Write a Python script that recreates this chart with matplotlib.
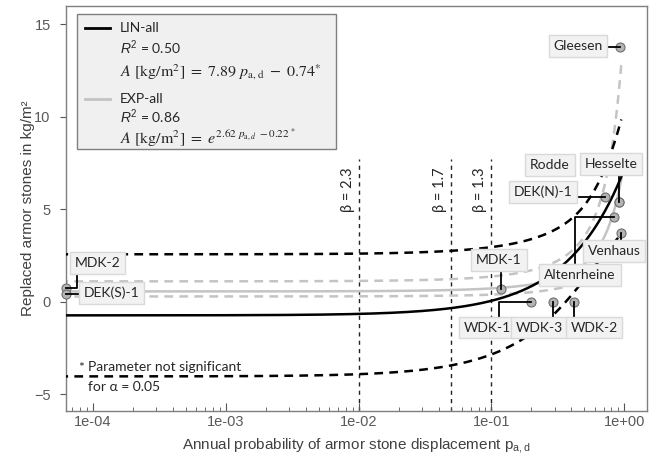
import numpy as np
import matplotlib.pyplot as plt
import matplotlib.ticker as ticker
from matplotlib.lines import Line2D
from matplotlib.patches import Rectangle
from matplotlib.transforms import IdentityTransform

plt.rcParams["font.family"] = ["Lato", "DejaVu Sans"]
plt.rcParams["mathtext.fontset"] = "custom"
plt.rcParams["mathtext.rm"] = "Liberation Sans"
plt.rcParams["mathtext.it"] = "Liberation Sans:italic"

# Messstellen: Verlagerungswahrscheinlichkeit und ersetzte Steine
stellen = ["Gleesen", "Rodde", "Hesselte", "DEK(N)-1", "Altenrheine", "Venhaus",
           "MDK-1", "WDK-1", "WDK-3", "WDK-2", "MDK-2", "DEK(S)-1"]
p_werte = [0.93, 0.906, 0.906, 0.71, 0.84, 0.95,
           0.118, 0.198, 0.293, 0.415, 6.3e-5, 6.3e-5]
a_werte = [13.78, 5.37, 5.37, 5.68, 4.59, 3.73,
           0.69, 0.0, 0.0, 0.0, 0.72, 0.40]

lin_steigung, lin_achse = 7.89, -0.745
lin_band = (4.0, 27.6, 0.5)        # Konfidenzband: sqrt(a + b*(p - pm)^2)
exp_steigung, exp_achse = 2.62, -0.60
exp_band = (0.30, 0.70, 0.5)
p_ende = 0.95

# Zuverlaessigkeitsindex
beta_p = [0.01, 0.05, 0.1]
beta_text = ["β = 2.3", "β = 1.7", "β = 1.3"]

W, H = 653, 457
fig = plt.figure(figsize=(W / 100, H / 100), dpi=100)
ax = fig.add_axes([66 / W, 1 - 410.7 / H, (647 - 66) / W, (410.7 - 5.7) / H])
ax.set_xscale("log")
xmin, xmax = 10 ** -4.203, 10 ** 0.171
ax.set_xlim(xmin, xmax)
ax.set_ylim(-5.9, 16.0)

p = np.logspace(np.log10(xmin) - 0.05, np.log10(p_ende), 600)

def band(par, p):
    a, b, pm = par
    return np.sqrt(a + b * (p - pm) ** 2)

lin = lin_steigung * p + lin_achse
hw = band(lin_band, p)
exp_log = exp_steigung * p + exp_achse
hwe = band(exp_band, p)

grau = "#c4c4c4"
ax.plot(p, np.exp(exp_log), color=grau, lw=1.8, zorder=2)
ax.plot(p, np.exp(exp_log + hwe), color=grau, lw=1.8, dashes=(3.5, 2.5), zorder=2)
ax.plot(p, np.exp(exp_log - hwe), color=grau, lw=1.8, dashes=(3.5, 2.5), zorder=2)
ax.plot(p, lin, color="black", lw=1.8, zorder=3)
ax.plot(p, lin + hw, color="black", lw=1.8, dashes=(3.5, 2.5), zorder=3)
ax.plot(p, lin - hw, color="black", lw=1.8, dashes=(3.5, 2.5), zorder=3)

for pb, txt in zip(beta_p, beta_text):
    ax.plot([pb, pb], [-5.9, 7.7], color="#222222", lw=1.0, dashes=(3, 3), zorder=1)
    ax.annotate(txt, xy=(pb, 6.05), xytext=(-11, 0), textcoords="offset pixels",
                rotation=90, ha="center", va="center", fontsize=10.5, color="#262626")

# Achsen
for s in ax.spines.values():
    s.set_color("#7f7f7f")
    s.set_linewidth(1.0)
ax.xaxis.set_major_locator(ticker.LogLocator(base=10, numticks=10))
ax.xaxis.set_minor_locator(ticker.LogLocator(base=10, subs=np.arange(2, 10), numticks=20))
ax.xaxis.set_minor_formatter(ticker.NullFormatter())
ax.xaxis.set_major_formatter(ticker.FuncFormatter(lambda v, _: f"{v:.0e}"))
ax.set_yticks([-5, 0, 5, 10, 15])
ax.tick_params(axis="x", which="major", direction="in", length=6, color="#555555",
               labelsize=10.5, labelcolor="#595959", pad=3)
ax.tick_params(axis="x", which="minor", direction="in", length=3, color="#555555")
ax.tick_params(axis="y", direction="out", length=4, color="#555555",
               labelsize=10.5, labelcolor="#595959", pad=7)
for lab in ax.get_xticklabels() + ax.get_yticklabels():
    lab.set_family("Liberation Sans")

ax.set_xlabel("Annual probability of armor stone displacement p$_{\\mathrm{a,d}}$",
              fontsize=11, color="#404040", family="Liberation Sans")
ax.set_ylabel("Replaced armor stones in kg/m²", fontsize=11, color="#404040",
              family="Liberation Sans")
ax.xaxis.set_label_coords(0.5, -0.062)
ax.yaxis.set_label_coords(-0.053, 0.5)

# Messpunkte
ax.plot(p_werte, a_werte, "o", ms=6.5, mfc="#b4b4b4", mec="#6e6e6e", mew=0.8,
        zorder=6, clip_on=False)

# Beschriftungen (Box-Mitte in Pixeln) und Verbindungslinien
boxen = {
    "Gleesen": (578, 46, ("h", 606)),
    "Rodde": (550, 165, None),
    "Hesselte": (611, 164, ("v", 176)),
    "DEK(N)-1": (543, 192, ("h", 573)),
    "Altenrheine": (580, 275, ("vh", 575, 263)),
    "Venhaus": (614, 251, ("v", 242)),
    "MDK-1": (499, 260, ("v", 270)),
    "WDK-1": (487, 327.5, ("vh", 499, 318)),
    "WDK-3": (539.5, 327.5, ("v", 318)),
    "WDK-2": (594, 327.5, ("v", 318)),
    "MDK-2": (97.5, 263, ("vh", 77.3, 275)),
    "DEK(S)-1": (111.7, 293, ("h", 81.7)),
}

fig.canvas.draw()
for name, pw, aw in zip(stellen, p_werte, a_werte):
    bx, by, con = boxen[name]
    fig.text(bx / W, 1 - by / H, name, ha="center", va="center", fontsize=10,
             color="#262626", zorder=7,
             bbox=dict(boxstyle="square,pad=0.35", fc="#f2f2f2", ec="#d9d9d9", lw=1))
    if con is None:
        continue
    qx, qy = ax.transData.transform((pw, aw))
    if con[0] == "h":
        xs, ys = [con[1], qx], [qy, qy]
    elif con[0] == "v":
        xs, ys = [qx, qx], [H - con[1], qy]
    else:
        xs, ys = [con[1], con[1], qx], [H - con[2], qy, qy]
    fig.add_artist(Line2D(xs, ys, color="black", lw=1.3, transform=IdentityTransform(),
                          zorder=5))

# Legende
fig.add_artist(Rectangle((77 / W, 1 - 149 / H), (336 - 77) / W, (149 - 14) / H,
                         transform=fig.transFigure, fc="#f0f0f0", ec="#7f7f7f", lw=1,
                         zorder=8))

def leg_linie(y, farbe):
    fig.add_artist(Line2D([85 / W, 110 / W], [1 - y / H] * 2, color=farbe, lw=2,
                          transform=fig.transFigure, zorder=9))

def leg_text(x, y, s, va="center", **kw):
    fig.text(x / W, 1 - y / H, s, ha="left", va=va, color="#262626", zorder=9, **kw)

leg_linie(28, "black")
leg_text(120, 28, "LIN-all", fontsize=10)
leg_text(120, 48, "$R^2$ = 0.50", fontsize=10)
leg_text(120, 76, r"$A\ [\mathrm{kg/m^2}]\ =\ 7.89\ p_{\mathrm{a,d}}\ -\ 0.74^{*}$",
         va="baseline", fontsize=11.5, math_fontfamily="stix")
leg_linie(99, grau)
leg_text(120, 99, "EXP-all", fontsize=10)
leg_text(120, 117, "$R^2$ = 0.86", fontsize=10)
leg_text(120, 144, r"$A\ [\mathrm{kg/m^2}]\ =\ e^{2.62\ p_{\mathrm{a},d}\ -0.22^{\,*}}$",
         va="baseline", fontsize=11.5, math_fontfamily="stix")

fig.text(78 / W, 1 - 368 / H, "*", fontsize=10, ha="left", va="center", color="#262626")
fig.text(88 / W, 1 - 367 / H, "Parameter not significant", fontsize=10, ha="left",
         va="center", color="#262626")
fig.text(88 / W, 1 - 387 / H, "for α = 0.05", fontsize=10, ha="left", va="center",
         color="#262626")

fig.savefig("out.png", dpi=100)
